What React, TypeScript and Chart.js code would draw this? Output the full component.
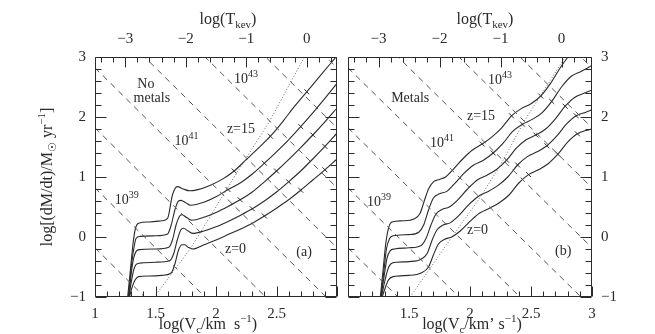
import { useEffect, useRef } from 'react';
import { Chart, registerables } from 'chart.js';

Chart.register(...registerables);

// ---------- data (x = log Vc [km/s], y = log dM/dt [Msun/yr]) ----------
const X_TICKS_LEFT = [1, 1.5, 2, 2.5];
const X_TICKS_RIGHT = [1.5, 2, 2.5, 3];
const Y_TICKS = [-1, 0, 1, 2, 3];
const T_TICKS = [-3, -2, -1, 0]; // log T_keV on the top axis

// constant-luminosity (dashed) lines: log dM/dt at log Vc = 1 and at log Vc = 3
const LUM_Y_AT_1 = [-0.18, 0.82, 1.82, 2.82, 3.82, 4.82, 5.82, 6.82];
const LUM_Y_AT_3 = [-4.18, -3.18, -2.18, -1.18, -0.18, 0.82, 1.82, 2.82];

// dotted line
const DOT_NM_X = [1.49, 1.8, 2.16, 2.44, 2.73, 2.8];
const DOT_NM_Y = [-1, -0.16, 1.03, 1.92, 3.0, 3.25];
const DOT_M_X = [1.51, 1.8, 2.07, 2.25, 2.45, 2.79, 2.85];
const DOT_M_Y = [-1, -0.15, 0.62, 1.2, 1.95, 3.03, 3.2];

// (a) no metals, z = 15 ... z = 0
const NM_A_X = [1.27, 1.295, 1.315, 1.335, 1.36, 1.45, 1.55, 1.6, 1.64, 1.68, 1.73, 1.78, 1.85, 1.95, 2.05, 2.15, 2.25, 2.35, 2.45, 2.55, 2.65, 2.75, 2.85, 2.95, 3.0];
const NM_A_Y = [-1, -0.5, -0.1, 0.15, 0.23, 0.25, 0.27, 0.31, 0.7, 0.84, 0.8, 0.77, 0.79, 0.86, 0.96, 1.1, 1.29, 1.48, 1.68, 1.92, 2.18, 2.42, 2.66, 2.9, 3.02];
const NM_B_X = [1.275, 1.3, 1.32, 1.34, 1.37, 1.5, 1.6, 1.63, 1.66, 1.69, 1.71, 1.75, 1.79, 1.9, 2.0, 2.1, 2.2, 2.3, 2.4, 2.5, 2.6, 2.7, 2.8, 2.9, 3.0];
const NM_B_Y = [-1, -0.5, -0.2, -0.02, 0.01, 0.02, 0.05, 0.2, 0.45, 0.6, 0.61, 0.57, 0.53, 0.58, 0.67, 0.79, 0.9, 1.05, 1.23, 1.42, 1.62, 1.84, 2.07, 2.31, 2.56];
const NM_C_X = [1.28, 1.3, 1.32, 1.34, 1.37, 1.5, 1.61, 1.64, 1.67, 1.7, 1.72, 1.76, 1.8, 1.9, 2.0, 2.1, 2.2, 2.3, 2.4, 2.5, 2.6, 2.7, 2.8, 2.9, 3.0];
const NM_C_Y = [-1, -0.6, -0.35, -0.24, -0.21, -0.2, -0.17, -0.05, 0.2, 0.35, 0.37, 0.32, 0.28, 0.33, 0.41, 0.51, 0.62, 0.75, 0.92, 1.1, 1.29, 1.49, 1.7, 1.92, 2.15];
const NM_D_X = [1.28, 1.3, 1.32, 1.345, 1.4, 1.5, 1.62, 1.65, 1.68, 1.71, 1.73, 1.77, 1.81, 1.9, 2.0, 2.1, 2.2, 2.3, 2.4, 2.5, 2.6, 2.7, 2.8, 2.9, 3.0];
const NM_D_Y = [-1, -0.75, -0.55, -0.45, -0.43, -0.42, -0.39, -0.28, -0.05, 0.12, 0.145, 0.1, 0.06, 0.1, 0.17, 0.26, 0.36, 0.47, 0.6, 0.75, 0.92, 1.1, 1.3, 1.51, 1.73];
const NM_E_X = [1.285, 1.3, 1.33, 1.36, 1.45, 1.55, 1.63, 1.66, 1.69, 1.72, 1.74, 1.77, 1.81, 1.9, 2.0, 2.1, 2.2, 2.3, 2.4, 2.5, 2.6, 2.7, 2.8, 2.9, 3.0];
const NM_E_Y = [-1, -0.88, -0.72, -0.66, -0.65, -0.64, -0.6, -0.45, -0.22, -0.13, -0.13, -0.17, -0.2, -0.13, -0.05, 0.04, 0.13, 0.23, 0.35, 0.48, 0.62, 0.78, 0.95, 1.12, 1.3];

// (b) metals, z = 15 ... z = 0
const M_A_X = [1.265, 1.29, 1.31, 1.335, 1.36, 1.45, 1.54, 1.59, 1.625, 1.66, 1.7, 1.75, 1.8, 1.86, 1.94, 2.02, 2.1, 2.18, 2.26, 2.34, 2.42, 2.5, 2.58, 2.66, 2.74, 2.82];
const M_A_Y = [-1, -0.5, -0.1, 0.17, 0.25, 0.27, 0.3, 0.39, 0.6, 0.8, 0.92, 0.96, 1.0, 1.12, 1.3, 1.45, 1.55, 1.67, 1.82, 2.02, 2.14, 2.22, 2.35, 2.56, 2.82, 3.05];
const M_B_X = [1.27, 1.295, 1.315, 1.34, 1.37, 1.5, 1.58, 1.62, 1.66, 1.7, 1.75, 1.81, 1.87, 1.95, 2.03, 2.11, 2.19, 2.27, 2.35, 2.43, 2.51, 2.59, 2.67, 2.75, 2.83, 2.91, 3.0];
const M_B_Y = [-1, -0.55, -0.2, -0.03, 0.02, 0.04, 0.08, 0.2, 0.45, 0.65, 0.72, 0.76, 0.88, 1.06, 1.2, 1.28, 1.4, 1.56, 1.76, 1.88, 1.96, 2.07, 2.26, 2.5, 2.68, 2.76, 2.86];
const M_C_X = [1.27, 1.3, 1.32, 1.345, 1.38, 1.5, 1.6, 1.64, 1.68, 1.72, 1.77, 1.83, 1.9, 1.98, 2.06, 2.14, 2.22, 2.3, 2.38, 2.46, 2.54, 2.62, 2.7, 2.78, 2.86, 2.94, 3.0];
const M_C_Y = [-1, -0.6, -0.35, -0.23, -0.2, -0.18, -0.14, -0.02, 0.2, 0.38, 0.46, 0.5, 0.62, 0.8, 0.95, 1.03, 1.13, 1.28, 1.48, 1.62, 1.7, 1.8, 1.97, 2.18, 2.33, 2.4, 2.45];
const M_D_X = [1.275, 1.3, 1.325, 1.35, 1.4, 1.5, 1.6, 1.65, 1.69, 1.73, 1.78, 1.84, 1.91, 1.99, 2.07, 2.15, 2.23, 2.31, 2.39, 2.47, 2.55, 2.63, 2.71, 2.79, 2.87, 2.95, 3.0];
const M_D_Y = [-1, -0.75, -0.55, -0.45, -0.42, -0.41, -0.37, -0.27, -0.05, 0.12, 0.2, 0.24, 0.36, 0.54, 0.68, 0.76, 0.86, 1.0, 1.2, 1.34, 1.42, 1.52, 1.68, 1.88, 2.02, 2.08, 2.12];
const M_E_X = [1.28, 1.3, 1.33, 1.37, 1.5, 1.6, 1.66, 1.7, 1.74, 1.79, 1.85, 1.92, 2.0, 2.08, 2.16, 2.24, 2.32, 2.4, 2.48, 2.56, 2.64, 2.72, 2.8, 2.88, 2.96, 3.0];
const M_E_Y = [-1, -0.88, -0.72, -0.66, -0.64, -0.6, -0.5, -0.3, -0.12, -0.04, 0.0, 0.1, 0.26, 0.4, 0.48, 0.57, 0.7, 0.9, 1.04, 1.12, 1.22, 1.38, 1.58, 1.72, 1.78, 1.8];

// indices of the small cross-marks drawn on each curve
const MARKS_NM = [[15, 18, 21], [15, 18, 21], [16, 19, 22], [17, 20, 23], [18, 21, 23]];
const MARKS_M = [[16, 19, 22], [16, 19, 22], [17, 20, 23], [18, 21, 24], [18, 21, 23]];

// ---------- styles ----------
const INK = '#2a2a2a';
const SERIF = '"Liberation Serif", "DejaVu Serif", serif';

type Run = [string, number]; // 0 normal, 1 superscript, -1 subscript
type Note = { runs: Run[]; x: number; y: number; align: 'left' | 'center' };

const sup = (a: string, b: string): Run[] => [[a, 0], [b, 1]];

const NOTES_LEFT: Note[] = [
  { runs: [['No', 0]], x: 1.42, y: 2.48, align: 'center' },
  { runs: [['metals', 0]], x: 1.47, y: 2.25, align: 'center' },
  { runs: sup('10', '43'), x: 2.148, y: 2.57, align: 'left' },
  { runs: sup('10', '41'), x: 1.656, y: 1.53, align: 'left' },
  { runs: [['z=15', 0]], x: 2.09, y: 1.73, align: 'left' },
  { runs: sup('10', '39'), x: 1.164, y: 0.55, align: 'left' },
  { runs: [['z=0', 0]], x: 2.074, y: -0.27, align: 'left' },
  { runs: [['(a)', 0]], x: 2.664, y: -0.32, align: 'left' },
];
const NOTES_RIGHT: Note[] = [
  { runs: [['Metals', 0]], x: 1.51, y: 2.25, align: 'center' },
  { runs: sup('10', '43'), x: 2.148, y: 2.55, align: 'left' },
  { runs: [['z=15', 0]], x: 1.975, y: 1.95, align: 'left' },
  { runs: sup('10', '41'), x: 1.672, y: 1.5, align: 'left' },
  { runs: sup('10', '39'), x: 1.156, y: 0.52, align: 'left' },
  { runs: [['z=0', 0]], x: 1.975, y: 0.05, align: 'left' },
  { runs: [['(b)', 0]], x: 2.697, y: -0.3, align: 'left' },
];

function drawRich(ctx: CanvasRenderingContext2D, runs: Run[], x: number, y: number, size: number, align: 'left' | 'center') {
  const fontFor = (k: number) => `${k ? Math.round(size * 0.68) : size}px ${SERIF}`;
  const widths = runs.map(([t, k]) => {
    ctx.font = fontFor(k);
    return ctx.measureText(t).width;
  });
  const total = widths.reduce((a, b) => a + b, 0);
  let cx = align === 'center' ? x - total / 2 : x;
  ctx.textAlign = 'left';
  ctx.textBaseline = 'alphabetic';
  runs.forEach(([t, k], i) => {
    ctx.font = fontFor(k);
    const dy = k === 1 ? -size * 0.42 : k === -1 ? size * 0.28 : 0;
    ctx.fillText(t, cx, y + dy);
    cx += widths[i];
  });
}

const minusFmt = (v: any) => {
  const n = Number(v);
  return n < 0 ? '\u2212' + Math.abs(n) : String(n);
};

const framePlugin = {
  id: 'frameTicks',
  afterDatasetsDraw(chart: any) {
    const { ctx, chartArea: a, scales } = chart;
    const sx = scales.x, sy = scales.y, st = scales.xTop;
    ctx.save();
    ctx.strokeStyle = INK;
    ctx.lineWidth = 1;
    const L = Math.round(a.left) + 0.5, R = Math.round(a.right) - 0.5;
    const T = Math.round(a.top) + 0.5, B = Math.round(a.bottom) - 0.5;
    ctx.beginPath();
    ctx.rect(L, T, R - L, B - T);
    // bottom ticks (log Vc)
    for (let i = 0; i <= 20; i++) {
      const px = Math.round(sx.getPixelForValue(1 + i * 0.1)) + 0.5;
      const len = i % 5 === 0 ? 10 : 5;
      ctx.moveTo(px, B); ctx.lineTo(px, B - len);
    }
    // top ticks (log T)
    for (let i = -17; i <= 2; i++) {
      const px = Math.round(st.getPixelForValue(i * 0.2)) + 0.5;
      const len = i % 5 === 0 ? 10 : 5;
      ctx.moveTo(px, T); ctx.lineTo(px, T + len);
    }
    // left & right ticks
    for (let i = 0; i <= 20; i++) {
      const py = Math.round(sy.getPixelForValue(-1 + i * 0.2)) + 0.5;
      const len = i % 5 === 0 ? 11 : 6;
      ctx.moveTo(L, py); ctx.lineTo(L + len, py);
      ctx.moveTo(R, py); ctx.lineTo(R - len, py);
    }
    ctx.stroke();
    ctx.restore();
  },
};

type Panel = {
  left: boolean;
  notes: Note[];
  xTicks: number[];
  curvesX: number[][];
  curvesY: number[][];
  marks: number[][];
  dotX: number[];
  dotY: number[];
  topTitleDx: number;
  botTitleDx: number;
  botTitle: Run[];
};

const textPlugin = {
  id: 'texts',
  afterDraw(chart: any) {
    const p: Panel = chart.options.plugins.texts.panel;
    const { ctx, chartArea: a, scales } = chart;
    ctx.save();
    ctx.fillStyle = INK;
    p.notes.forEach((n) => {
      drawRich(ctx, n.runs, scales.x.getPixelForValue(n.x), scales.y.getPixelForValue(n.y), 14, n.align);
    });
    const cx = (a.left + a.right) / 2;
    drawRich(ctx, [['log(T', 0], ['kev', -1], [')', 0]], cx + p.topTitleDx, 24, 16, 'center');
    drawRich(ctx, p.botTitle, cx + p.botTitleDx, 329, 16, 'center');
    if (p.left) {
      ctx.translate(52, (a.top + a.bottom) / 2);
      ctx.rotate(-Math.PI / 2);
      drawRich(ctx, [['log[(dM/dt)/M', 0], ['\u2609', -1], [' yr', 0], ['\u22121', 1], [']', 0]], 0, 0, 16, 'center');
    }
    ctx.restore();
  },
};

function buildConfig(p: Panel): any {
  const datasets: any[] = [];
  LUM_Y_AT_1.forEach((y1, i) => {
    datasets.push({
      data: [{ x: 1, y: y1 }, { x: 3, y: LUM_Y_AT_3[i] }],
      showLine: true, borderColor: '#555', borderWidth: 1, borderDash: [6, 5], pointRadius: 0,
    });
  });
  datasets.push({
    data: p.dotX.map((x, i) => ({ x, y: p.dotY[i] })),
    showLine: true, borderColor: '#666', borderWidth: 1, borderDash: [1, 2], pointRadius: 0,
  });
  p.curvesX.forEach((xs, c) => {
    const marks = p.marks[c];
    datasets.push({
      data: xs.map((x, i) => ({ x, y: p.curvesY[c][i] })),
      showLine: true, borderColor: INK, borderWidth: 1.1, cubicInterpolationMode: 'monotone',
      pointStyle: 'line', pointRotation: 45, pointBorderColor: INK, pointBorderWidth: 1,
      pointRadius: (ctx: any) => (marks.includes(ctx.dataIndex) ? 3.5 : 0),
    });
  });

  const tickFont = { family: SERIF, size: 15 };
  const grid = { display: false, drawTicks: false };
  return {
    type: 'scatter',
    data: { datasets },
    options: {
      animation: false,
      responsive: false,
      maintainAspectRatio: false,
      devicePixelRatio: 1,
      layout: { padding: p.left ? { left: 0, right: 5, top: 0, bottom: 0 } : { left: 6, right: 0, top: 0, bottom: 0 } },
      plugins: { legend: { display: false }, tooltip: { enabled: false }, texts: { panel: p } },
      scales: {
        x: {
          type: 'linear', position: 'bottom', min: 1, max: 3,
          grid, border: { display: false },
          afterBuildTicks: (s: any) => { s.ticks = p.xTicks.map((v) => ({ value: v })); },
          afterFit: (s: any) => { s.height = 37; },
          ticks: { padding: 8, maxRotation: 0, autoSkip: false, font: tickFont, color: INK, callback: minusFmt },
        },
        xTop: {
          type: 'linear', position: 'top', min: -3.5, max: 0.5,
          grid, border: { display: false },
          afterBuildTicks: (s: any) => { s.ticks = T_TICKS.map((v) => ({ value: v })); },
          afterFit: (s: any) => { s.height = 57; },
          ticks: { padding: 9, maxRotation: 0, autoSkip: false, font: tickFont, color: INK, callback: minusFmt },
        },
        y: {
          type: 'linear', position: p.left ? 'left' : 'right', min: -1, max: 3,
          grid, border: { display: false },
          afterBuildTicks: (s: any) => { s.ticks = Y_TICKS.map((v) => ({ value: v })); },
          afterFit: (s: any) => { s.width = p.left ? 95 : 63; },
          ticks: { padding: 9, autoSkip: false, font: tickFont, color: INK, callback: minusFmt },
        },
      },
    },
    plugins: [framePlugin, textPlugin],
  };
}

const LEFT: Panel = {
  left: true,
  notes: NOTES_LEFT,
  xTicks: X_TICKS_LEFT,
  curvesX: [NM_A_X, NM_B_X, NM_C_X, NM_D_X, NM_E_X],
  curvesY: [NM_A_Y, NM_B_Y, NM_C_Y, NM_D_Y, NM_E_Y],
  marks: MARKS_NM,
  dotX: DOT_NM_X,
  dotY: DOT_NM_Y,
  topTitleDx: 12,
  botTitleDx: -8,
  botTitle: [['log(V', 0], ['c', -1], ['/km  s', 0], ['\u22121', 1], [')', 0]],
};
const RIGHT: Panel = {
  left: false,
  notes: NOTES_RIGHT,
  xTicks: X_TICKS_RIGHT,
  curvesX: [M_A_X, M_B_X, M_C_X, M_D_X, M_E_X],
  curvesY: [M_A_Y, M_B_Y, M_C_Y, M_D_Y, M_E_Y],
  marks: MARKS_M,
  dotX: DOT_M_X,
  dotY: DOT_M_Y,
  topTitleDx: 15,
  botTitleDx: 2,
  botTitle: [['log(V', 0], ['c', -1], ['/km\u2019 s', 0], ['\u22121', 1], [')', 0]],
};

function PanelCanvas({ panel, w, h }: { panel: Panel; w: number; h: number }) {
  const ref = useRef<HTMLCanvasElement | null>(null);
  useEffect(() => {
    if (!ref.current) return;
    const chart = new Chart(ref.current, buildConfig(panel));
    return () => chart.destroy();
  }, [panel]);
  return <canvas ref={ref} width={w} height={h} style={{ width: w, height: h, display: 'block' }} />;
}

export default function App() {
  return (
    <div style={{ position: 'fixed', left: 0, top: 0, width: 655, height: 334, background: '#fff', overflow: 'hidden' }}>
      <div style={{ position: 'absolute', left: 0, top: 0 }}>
        <PanelCanvas panel={LEFT} w={342} h={334} />
      </div>
      <div style={{ position: 'absolute', left: 342, top: 0 }}>
        <PanelCanvas panel={RIGHT} w={313} h={334} />
      </div>
    </div>
  );
}
